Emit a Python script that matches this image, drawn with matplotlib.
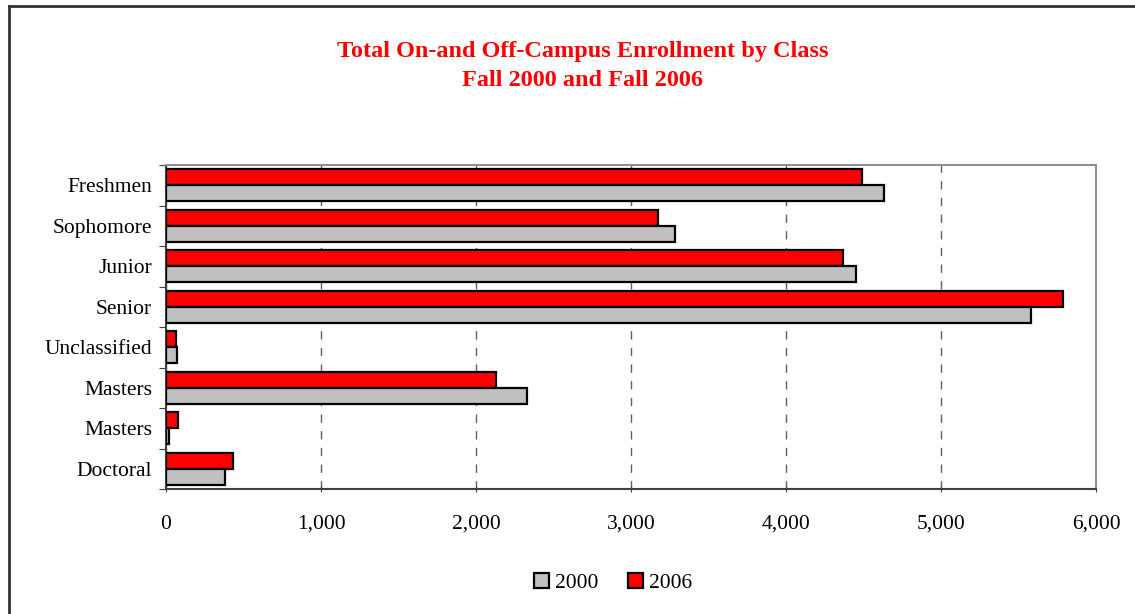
import matplotlib.pyplot as plt
from matplotlib.lines import Line2D
from matplotlib.ticker import FuncFormatter
import numpy as np

categories = ["Freshmen", "Sophomore", "Junior", "Senior", "Unclassified",
              "Masters", "Masters", "Doctoral"]
fall_2000 = [4632, 3284, 4452, 5581, 70, 2329, 20, 380]
fall_2006 = [4490, 3174, 4368, 5787, 65, 2129, 77, 432]

plt.rcParams['font.family'] = ['Liberation Serif', 'DejaVu Serif']

fig = plt.figure(figsize=(11.35, 6.14), dpi=100)
ax = fig.add_axes([166 / 1135, 1 - 489 / 614, (1096 - 166) / 1135, (489 - 165) / 614])

y = np.arange(len(categories))
h = 0.4
ax.barh(y - h / 2, fall_2006, height=h, color='#ff0000', edgecolor='black',
        linewidth=1.6, label='2006', zorder=3)
ax.barh(y + h / 2, fall_2000, height=h, color='#c0c0c0', edgecolor='black',
        linewidth=1.6, label='2000', zorder=3)

ax.set_xlim(0, 6000)
ax.set_ylim(len(categories) - 0.5, -0.5)
ax.set_xticks(np.arange(0, 6001, 1000))
ax.xaxis.set_major_formatter(FuncFormatter(lambda v, p: f"{int(v):,}"))
ax.tick_params(axis='x', labelsize=15.5, length=5, direction='inout', pad=16, color='#404040')

# category labels at centres, tick marks at boundaries
ax.set_yticks(np.arange(-0.5, len(categories), 1.0))
ax.set_yticklabels([])
ax.tick_params(axis='y', which='major', length=5, direction='out', color='#404040')
ax.set_yticks(y, minor=True)
ax.set_yticklabels(categories, minor=True, fontsize=15.5)
ax.tick_params(axis='y', which='minor', length=0, pad=10)

ax.grid(axis='x', color='#606060', linestyle=(0, (6, 6)), linewidth=1, zorder=0)
for s in ['top', 'right']:
    ax.spines[s].set_color('#909090')
    ax.spines[s].set_linewidth(1.5)
for s in ['left', 'bottom']:
    ax.spines[s].set_color('#404040')
    ax.spines[s].set_linewidth(1.5)

fig.text(0.513, 1 - 66 / 614, "Total On-and Off-Campus Enrollment by Class\nFall 2000 and Fall 2006",
         ha='center', va='center', color='#ff0000', fontsize=17.5, fontweight='bold',
         linespacing=1.45)

handles, labels = ax.get_legend_handles_labels()
fig.legend(handles[::-1], labels[::-1], loc='center', bbox_to_anchor=(613 / 1135, 1 - 583 / 614),
           ncol=2, frameon=False, fontsize=15.5, handlelength=0.7, handleheight=0.7,
           handletextpad=0.25, columnspacing=1.4)

# outer frame (left and top edges)
fig.add_artist(Line2D([9 / 1135, 9 / 1135], [0, 1 - 6 / 614], transform=fig.transFigure,
                      color='#333333', linewidth=2))
fig.add_artist(Line2D([9 / 1135, 1], [1 - 6 / 614, 1 - 6 / 614], transform=fig.transFigure,
                      color='#333333', linewidth=2))

fig.savefig('out.png', dpi=100)
